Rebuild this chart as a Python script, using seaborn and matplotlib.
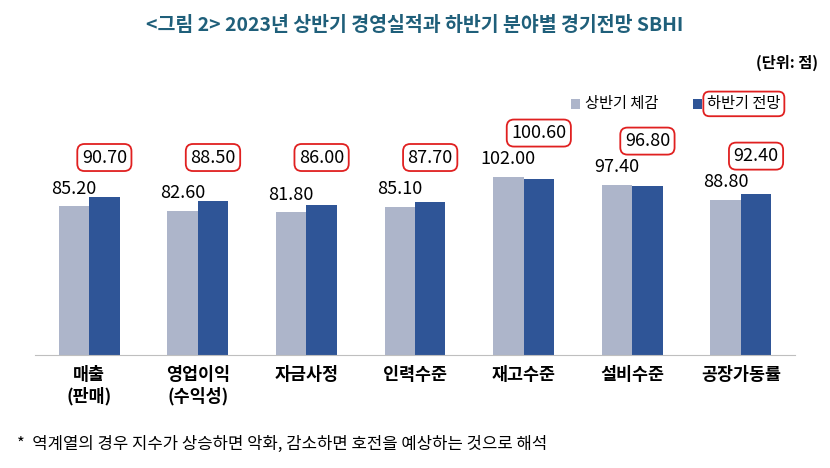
import matplotlib
matplotlib.use("Agg")
import matplotlib.pyplot as plt
from matplotlib import font_manager
import seaborn as sns
import pandas as pd
from matplotlib.patches import FancyBboxPatch

categories = ["매출\n(판매)", "영업이익\n(수익성)", "자금사정", "인력수준", "재고수준", "설비수준", "공장가동률"]
first_half = [85.2, 82.6, 81.8, 85.1, 102.0, 97.4, 88.8]
second_half = [90.7, 88.5, 86.0, 87.7, 100.6, 96.8, 92.4]
series = ["상반기 체감", "하반기 전망"]

names = sorted({f.name for f in font_manager.fontManager.ttflist if "CJK" in f.name})
pref = [n for n in ["Noto Sans CJK KR", "Noto Sans CJK JP", "Noto Sans CJK SC"] if n in names]
plt.rcParams["font.family"] = (pref + names + ["DejaVu Sans"])[:1] + ["DejaVu Sans"]

df = pd.DataFrame({"cat": categories * 2,
                   "val": first_half + second_half,
                   "s": [series[0]] * 7 + [series[1]] * 7})

fig = plt.figure(figsize=(8.3, 4.68), dpi=100)
ax = fig.add_axes([0.042, 0.241, 0.916, 0.56])
sns.barplot(data=df, x="cat", y="val", hue="s", palette=["#adb5ca", "#2f5597"],
            saturation=1, width=0.56, gap=0.0, ax=ax, legend=False)
ax.set_ylim(0, 150)
ax.set_xlim(-0.5, 6.5)
for sp in ["top", "right", "left"]:
    ax.spines[sp].set_visible(False)
ax.spines["bottom"].set_color("#bfbfbf")
ax.set_yticks([])
ax.set_xlabel(""); ax.set_ylabel("")
ax.tick_params(axis="x", length=0, pad=8, labelsize=12.5)
for lbl in ax.get_xticklabels():
    lbl.set_fontweight("bold")

for i, (a, b) in enumerate(zip(first_half, second_half)):
    ax.text(i - 0.14, a + 5, f"{a:.2f}", ha="center", va="bottom", fontsize=13)
    ax.text(i + 0.14, max(108, a + 20), f"{b:.2f}", ha="center", va="bottom", fontsize=13,
            bbox=dict(boxstyle="round,pad=0.25,rounding_size=0.4", fc="white", ec="#e02020", lw=1.3))

fig.text(0.5, 0.945, "<그림 2> 2023년 상반기 경영실적과 하반기 분야별 경기전망 SBHI",
         ha="center", va="center", fontsize=14, fontweight="bold", color="#1f5f7a")
fig.text(0.985, 0.865, "(단위: 점)", ha="right", va="center", fontsize=11, fontweight="bold")
fig.text(0.02, 0.05, "*  역계열의 경우 지수가 상승하면 악화, 감소하면 호전을 예상하는 것으로 해석",
         ha="left", va="center", fontsize=12)

fig.patches.append(FancyBboxPatch((0.688, 0.768), 0.011, 0.02, boxstyle="square,pad=0",
                                  fc="#adb5ca", ec="none", transform=fig.transFigure))
fig.text(0.705, 0.778, "상반기 체감", ha="left", va="center", fontsize=11)
fig.patches.append(FancyBboxPatch((0.835, 0.768), 0.011, 0.02, boxstyle="square,pad=0",
                                  fc="#2f5597", ec="none", transform=fig.transFigure))
fig.text(0.852, 0.778, "하반기 전망", ha="left", va="center", fontsize=11,
         bbox=dict(boxstyle="round,pad=0.25,rounding_size=0.4", fc="white", ec="#e02020", lw=1.3))

fig.savefig("out.png", dpi=100)
